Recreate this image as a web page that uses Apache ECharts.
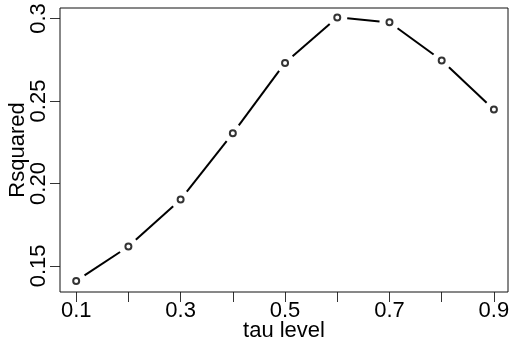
<!DOCTYPE html>
<html>
<head>
<meta charset="utf-8">
<script src="https://cdn.jsdelivr.net/npm/echarts@6/dist/echarts.min.js"></script>
<style>
  html, body { margin: 0; padding: 0; background: #fff; }
  #chart { width: 511px; height: 341px; }
</style>
</head>
<body>
<div id="chart"></div>
<script>
// R-squared by quantile (tau) level
var tauLevels = [0.1, 0.2, 0.3, 0.4, 0.5, 0.6, 0.7, 0.8, 0.9];
var rsquared  = [0.1409, 0.1618, 0.1903, 0.2304, 0.2731, 0.3007, 0.2977, 0.2746, 0.2448];

var xTickValues  = [0.1, 0.2, 0.3, 0.4, 0.5, 0.6, 0.7, 0.8, 0.9];
var xLabelValues = [0.1, 0.3, 0.5, 0.7, 0.9];
var yTickValues  = [0.15, 0.20, 0.25, 0.30];
var yTickLabels  = ['0.15', '0.20', '0.25', '0.3'];

var FONT = 'Liberation Sans, Arial, sans-serif';

// segments between consecutive points (drawn with a gap round each point)
var segments = [];
for (var i = 1; i < tauLevels.length; i++) {
  segments.push([tauLevels[i - 1], rsquared[i - 1], tauLevels[i], rsquared[i]]);
}
var points = tauLevels.map(function (t, i) { return [t, rsquared[i]]; });

var GAP = 10;

var chart = echarts.init(document.getElementById('chart'), null, { renderer: 'canvas' });
chart.setOption({
  animation: false,
  backgroundColor: '#fff',
  grid: {
    left: 60, right: 3, top: 8, bottom: 49,
    outerBoundsMode: 'none',
    containLabel: false,
    show: true, borderColor: '#111', borderWidth: 1, z: 5
  },
  xAxis: {
    type: 'value',
    min: 0.069, max: 0.927,
    name: 'tau level',
    nameLocation: 'middle',
    nameGap: 28,
    nameMoveOverlap: false,
    nameTextStyle: { fontFamily: FONT, fontSize: 22, color: '#000' },
    axisLine: { show: false },
    splitLine: { show: false },
    axisTick: {
      show: true, inside: false, length: 10,
      lineStyle: { color: '#333', width: 1 },
      customValues: xTickValues
    },
    axisLabel: {
      fontFamily: FONT, fontSize: 22, color: '#000', margin: 8,
      customValues: xLabelValues,
      formatter: function (v) { return String(v); }
    }
  },
  yAxis: {
    type: 'value',
    min: 0.1342, max: 0.3064,
    name: 'Rsquared',
    nameLocation: 'middle',
    nameRotate: 90,
    nameGap: 31,
    nameMoveOverlap: false,
    nameTextStyle: { fontFamily: FONT, fontSize: 22, color: '#000' },
    axisLine: { show: false },
    splitLine: { show: false },
    axisTick: {
      show: true, inside: false, length: 10,
      lineStyle: { color: '#333', width: 1 },
      customValues: yTickValues
    },
    axisLabel: {
      fontFamily: FONT, fontSize: 22, color: '#000', margin: 10,
      rotate: 90,
      customValues: yTickValues,
      formatter: function (v) {
        for (var k = 0; k < yTickValues.length; k++) {
          if (Math.abs(v - yTickValues[k]) < 1e-9) return yTickLabels[k];
        }
        return '';
      }
    }
  },
  series: [
    {
      type: 'custom',
      data: segments,
      encode: { x: [0, 2], y: [1, 3] },
      renderItem: function (params, api) {
        var p0 = api.coord([api.value(0), api.value(1)]);
        var p1 = api.coord([api.value(2), api.value(3)]);
        var dx = p1[0] - p0[0], dy = p1[1] - p0[1];
        var len = Math.sqrt(dx * dx + dy * dy);
        if (len <= 2 * GAP) return null;
        var ux = dx / len, uy = dy / len;
        return {
          type: 'line',
          shape: {
            x1: p0[0] + ux * GAP, y1: p0[1] + uy * GAP,
            x2: p1[0] - ux * GAP, y2: p1[1] - uy * GAP
          },
          style: { stroke: '#000', lineWidth: 2 }
        };
      },
      silent: true
    },
    {
      type: 'scatter',
      data: points,
      symbol: 'circle',
      symbolSize: 6,
      itemStyle: { color: '#fff', borderColor: '#000', borderWidth: 2 },
      silent: true
    }
  ]
});
</script>
</body>
</html>
